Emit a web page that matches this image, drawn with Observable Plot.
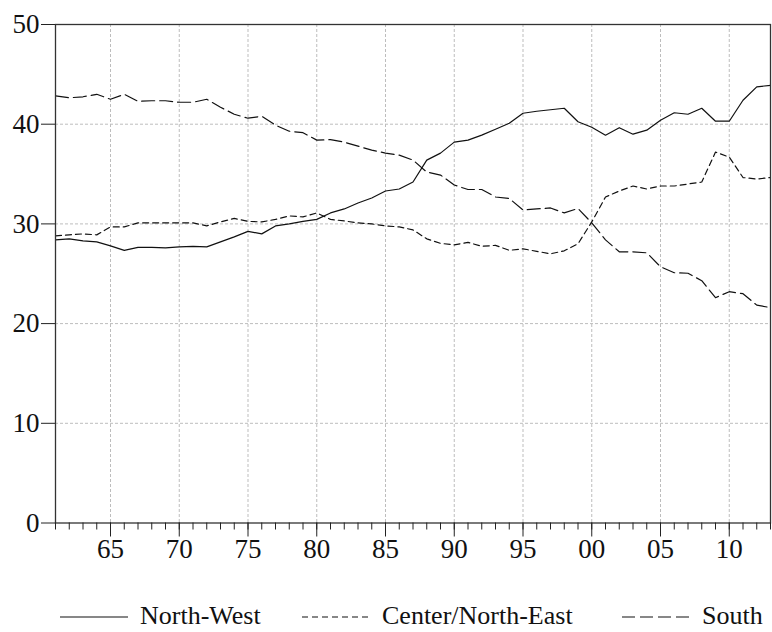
<!DOCTYPE html>
<html>
<head>
<meta charset="utf-8">
<script src="https://cdn.jsdelivr.net/npm/d3@7"></script>
<script src="https://cdn.jsdelivr.net/npm/@observablehq/plot@0.6"></script>
<style>
  body { margin: 0; background: #fff; }
  #wrap { position: relative; width: 772px; height: 632px; font-family: "Liberation Serif", "Times New Roman", serif; }
  #legend { position: absolute; left: 0; top: 600px; width: 772px; height: 32px; }
  .item { position: absolute; top: 0; display: flex; align-items: center; font-size: 26px; color: #111; white-space: nowrap; }
  .item svg { margin-right: 12px; }
</style>
</head>
<body>
<div id="wrap"><div id="chart"></div><div id="legend"></div></div>
<script>
const years = d3.range(1961, 2014);
const northWest = [28.4,28.5,28.3,28.2,27.8,27.35,27.65,27.65,27.6,27.7,27.75,27.7,28.2,28.7,29.25,29.0,29.8,30.0,30.25,30.45,31.1,31.5,32.1,32.6,33.3,33.5,34.2,36.4,37.1,38.2,38.4,38.9,39.5,40.1,41.1,41.3,41.45,41.6,40.25,39.7,38.9,39.65,39.0,39.4,40.4,41.15,41.0,41.6,40.3,40.3,42.4,43.75,43.9];
const centerNorthEast = [28.8,28.9,29.0,28.9,29.7,29.7,30.1,30.1,30.1,30.1,30.1,29.8,30.2,30.55,30.25,30.2,30.45,30.8,30.7,31.1,30.45,30.3,30.1,30.0,29.8,29.7,29.4,28.5,28.05,27.9,28.15,27.75,27.85,27.35,27.5,27.25,27.0,27.3,28.0,30.2,32.7,33.3,33.8,33.5,33.8,33.8,34.0,34.2,37.2,36.7,34.65,34.5,34.65];
const south = [42.85,42.65,42.75,43.0,42.5,43.0,42.3,42.35,42.35,42.2,42.2,42.5,41.7,41.0,40.6,40.8,39.9,39.3,39.15,38.4,38.45,38.2,37.8,37.4,37.1,36.9,36.4,35.2,34.9,33.9,33.45,33.45,32.7,32.55,31.4,31.5,31.6,31.1,31.55,30.1,28.4,27.2,27.2,27.1,25.7,25.1,25.05,24.3,22.6,23.2,23.0,21.85,21.6];
const seriesNames = ["North-West", "Center/North-East", "South"];
const majorYears = d3.range(1965, 2014, 5);
const yTicks = [0, 10, 20, 30, 40, 50];

const dashes = {"North-West": null, "Center/North-East": "6,4", "South": "13,5"};
const valuesBy = {"North-West": northWest, "Center/North-East": centerNorthEast, "South": south};
const rows = seriesNames.flatMap(s => years.map((y, i) => ({series: s, year: y, value: valuesBy[s][i]})));

const fmt = d => String(d % 100).padStart(2, "0");

const chart = Plot.plot({
  width: 772,
  height: 575,
  marginTop: 24,
  marginLeft: 55,
  marginRight: 2,
  marginBottom: 52.5,
  style: {fontFamily: "Liberation Serif, Times New Roman, serif", fontSize: "27px", color: "#111", background: "#fff"},
  x: {domain: [1961, 2013]},
  y: {domain: [0, 50]},
  marks: [
    Plot.gridX(majorYears, {stroke: "#bdbdbd", strokeOpacity: 1, strokeDasharray: "3,2"}),
    Plot.gridY([10, 20, 30, 40], {stroke: "#bdbdbd", strokeOpacity: 1, strokeDasharray: "3,2"}),
    ...seriesNames.map(s => Plot.line(rows.filter(r => r.series === s), {
      x: "year", y: "value", stroke: "#111", strokeWidth: 1.2,
      strokeDasharray: dashes[s]
    })),
    Plot.frame({stroke: "#333", strokeWidth: 1.3}),
    Plot.axisX(years, {tickSize: 7, tickFormat: () => "", label: null, stroke: "#222"}),
    Plot.axisX(majorYears, {tickSize: 14, tickPadding: 2, tickFormat: fmt, label: null, stroke: "#222", fontSize: 27}),
    Plot.axisY(yTicks, {tickSize: 14, tickPadding: 2, label: null, stroke: "#222", fontSize: 27})
  ]
});
document.getElementById("chart").appendChild(chart);

const legendPos = [{name: "North-West", left: 60}, {name: "Center/North-East", left: 302}, {name: "South", left: 622}];
const legend = document.getElementById("legend");
legendPos.forEach(({name, left}) => {
  const div = document.createElement("div");
  div.className = "item";
  div.style.left = left + "px";
  const dash = dashes[name] ? `stroke-dasharray="${dashes[name]}"` : "";
  div.innerHTML = `<svg width="68" height="32"><line x1="0" x2="68" y1="17" y2="17" stroke="#111" stroke-width="1.2" ${dash}/></svg><span>${name}</span>`;
  legend.appendChild(div);
});
</script>
</body>
</html>
